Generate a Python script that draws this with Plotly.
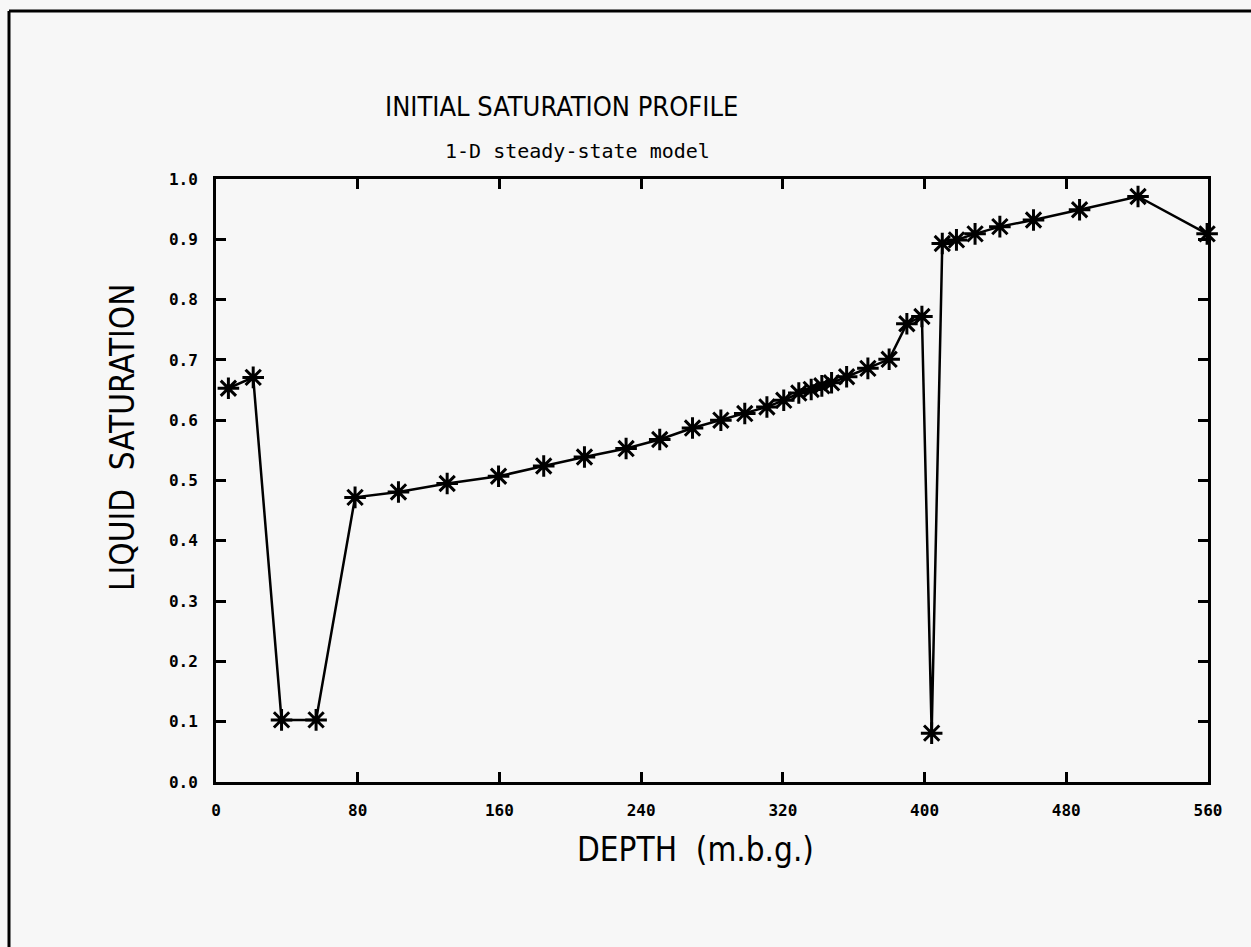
import plotly.graph_objects as go

# Depth below ground surface (m) and initial liquid saturation at each grid block
depth = [7, 21, 37, 56.5, 78.5, 103, 130.5, 159.5, 185, 208, 231.5, 250.5, 269,
         285, 298.5, 311, 320.5, 329, 336, 342, 347.5, 356, 368, 380, 390, 398.5,
         404, 410, 418, 428.5, 442.5, 461.5, 487.5, 520.5, 559.5]
saturation = [0.653, 0.671, 0.103, 0.103, 0.472, 0.481, 0.495, 0.507, 0.524, 0.539,
              0.553, 0.568, 0.587, 0.600, 0.611, 0.622, 0.633, 0.645, 0.651, 0.657,
              0.662, 0.672, 0.686, 0.701, 0.760, 0.772, 0.081, 0.893, 0.899, 0.909,
              0.921, 0.932, 0.949, 0.971, 0.909]

x_ticks = [0, 80, 160, 240, 320, 400, 480, 560]
y_ticks = [0.0, 0.1, 0.2, 0.3, 0.4, 0.5, 0.6, 0.7, 0.8, 0.9, 1.0]

W, H = 1251, 947
L, R, T, B = 216, 1208, 179, 782

title_font = "DejaVu Sans Condensed, Liberation Sans Narrow, Roboto Condensed, DejaVu Sans"
mono = "DejaVu Sans Mono"

fig = go.Figure()
fig.add_trace(go.Scatter(
    x=depth, y=saturation, mode="lines+markers",
    line=dict(color="black", width=2.5),
    marker=dict(symbol="asterisk-open", size=18, line=dict(color="black", width=3)),
    showlegend=False, cliponaxis=False,
))

axis_common = dict(
    showline=True, linecolor="black", linewidth=3, mirror="ticks",
    ticks="inside", tickcolor="black", tickwidth=2.5, ticklen=10,
    showgrid=False, zeroline=False,
    tickfont=dict(family=mono, size=16, color="black", weight="bold"),
)
fig.update_xaxes(range=[0, 560], tickvals=x_ticks, ticktext=[str(v) for v in x_ticks],
                 ticklabelstandoff=12, **axis_common)
fig.update_yaxes(range=[0, 1.0], tickvals=y_ticks, ticktext=[f"{v:.1f}" for v in y_ticks],
                 ticklabelstandoff=12, **axis_common)


def px(x):
    return (x - L) / (R - L)


def py(y):
    return (B - y) / (B - T)


annotations = [
    dict(text="INITIAL SATURATION PROFILE", x=px(561), y=py(106),
         font=dict(family=title_font, size=27, color="black")),
    dict(text="1-D steady-state model", x=px(577), y=py(151),
         font=dict(family=mono, size=20, color="black")),
    dict(text="DEPTH  (m.b.g.)", x=px(695), y=py(849),
         font=dict(family=title_font, size=33, color="black")),
    dict(text="LIQUID  SATURATION", x=px(122), y=py(438), textangle=-90,
         font=dict(family=title_font, size=33, color="black")),
]
for a in annotations:
    a.update(xref="paper", yref="paper", showarrow=False,
             xanchor="center", yanchor="middle")
fig.update_layout(annotations=annotations)

# Page border along the top and left edges
fig.add_shape(type="line", xref="paper", yref="paper",
              x0=px(9), y0=py(11), x1=px(W + 5), y1=py(11),
              line=dict(color="black", width=3))
fig.add_shape(type="line", xref="paper", yref="paper",
              x0=px(9), y0=py(11), x1=px(9), y1=py(H + 5),
              line=dict(color="black", width=3))

fig.update_layout(
    width=W, height=H,
    margin=dict(l=L, r=W - R, t=T, b=H - B),
    paper_bgcolor="#f7f7f7", plot_bgcolor="#f7f7f7",
)

fig.write_html("out.html")
